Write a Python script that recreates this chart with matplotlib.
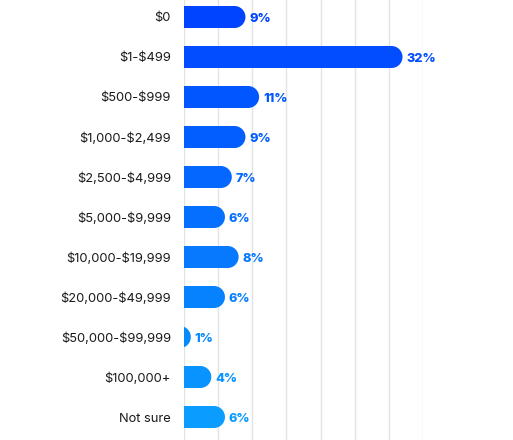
import matplotlib
matplotlib.use("Agg")
import matplotlib.pyplot as plt
from matplotlib.patches import Rectangle, Ellipse
import numpy as np

categories = ["$0", "$1-$499", "$500-$999", "$1,000-$2,499", "$2,500-$4,999",
              "$5,000-$9,999", "$10,000-$19,999", "$20,000-$49,999",
              "$50,000-$99,999", "$100,000+", "Not sure"]
values = [9, 32, 11, 9, 7, 6, 8, 6, 1, 4, 6]
value_labels = ["9%", "32%", "11%", "9%", "7%", "6%", "8%", "6%", "1%", "4%", "6%"]

W, H, DPI = 513, 440, 100
fig = plt.figure(figsize=(W / DPI, H / DPI), dpi=DPI)
ax_left, ax_right = 184, 423
ax = fig.add_axes([ax_left / W, 0, (ax_right - ax_left) / W, 1])

xmax = 35
ax.set_xlim(0, xmax)
n = len(categories)
ax.set_ylim(n - 1 + 0.575, -0.425)

px_per_unit = (ax_right - ax_left) / xmax
bar_h = 0.55
rx = 11.0 / px_per_unit

c_top = np.array([0x00, 0x44, 0xFF]) / 255
c_bot = np.array([0x0A, 0x9C, 0xFF]) / 255
colors = [tuple(c_top + (c_bot - c_top) * i / (n - 1)) for i in range(n)]

for xg in range(0, xmax + 1, 5):
    ax.axvline(xg, color="#e3e3e3", lw=1, zorder=0)

for i, (v, lab) in enumerate(zip(values, value_labels)):
    col = colors[i]
    body = max(v - rx, 0)
    if body > 0:
        ax.add_patch(Rectangle((0, i - bar_h / 2), body, bar_h, facecolor=col,
                               edgecolor="none", zorder=2))
    ax.add_patch(Ellipse((v - rx, i), 2 * rx, bar_h, facecolor=col,
                         edgecolor="none", zorder=2))
    ax.annotate(lab, xy=(v, i), xytext=(4, 0), textcoords="offset pixels",
                ha="left", va="center_baseline", fontsize=9.2, fontweight="heavy",
                color=col, family=["Inter", "DejaVu Sans"], annotation_clip=False)

ax.set_yticks(range(n))
ax.set_yticklabels(categories, fontsize=9.3, color="#1a1a1a",
                   family=["Inter", "DejaVu Sans"], parse_math=False)
ax.tick_params(axis="y", length=0, pad=9.4)
ax.set_xticks([])
for s in ax.spines.values():
    s.set_visible(False)

fig.savefig("out.png", dpi=DPI)
